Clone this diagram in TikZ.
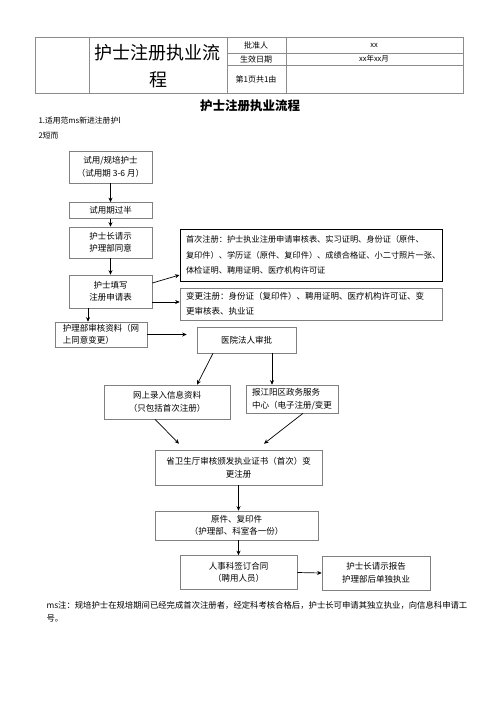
\documentclass[tikz,border=0pt]{standalone}
\usepackage{fontspec}
\setmainfont{Noto Sans CJK SC}
\usetikzlibrary{calc,arrows.meta}

\begin{document}
\begin{tikzpicture}[x=1pt,y=-1pt,
            flowbox/.style 2 args={draw=black!50,line width=.6pt,minimum width=#1,minimum height=#2,
                inner sep=1pt,align=center,font=\fontsize{8.5}{12.5}\selectfont},
            notebox/.style={draw=black!50,line width=.6pt,text width=250pt,inner xsep=6pt,inner ysep=2pt,
                align=left,font=\fontsize{8.2}{15.5}\selectfont},
            flow/.style={-{Stealth[length=4.5pt,width=4pt]},line width=.7pt},
            grid/.style={draw=black!45,line width=.7pt}]
            \useasboundingbox (0,0) rectangle (500,707);
            \draw[grid] (35,37) rectangle (463,93);
            \draw[grid] (89,37) -- (89,93) (227,37) -- (227,93) (286,37) -- (286,93)
                (227,53) -- (463,53) (227,65) -- (463,65);
            \node[font=\fontsize{18}{20}\selectfont] (ttlA) at (157,53) {护士注册执业流};
            \node[font=\fontsize{18}{20}\selectfont] (ttlB) at (158,80) {程};
            \node[font=\fontsize{8}{10}\selectfont] (approver) at (256,45) {批准人};
            \node[font=\fontsize{8}{10}\selectfont] (date) at (256,59) {生效日期};
            \node[font=\fontsize{8}{10}\selectfont] (page) at (256,79) {第1页共1由};
            \node[font=\fontsize{7.5}{10}\selectfont] (approverval) at (374,45) {xx};
            \node[font=\fontsize{7.5}{10}\selectfont] (dateval) at (374,59) {xx年xx月};
            \node[font=\fontsize{12.5}{15}\selectfont\bfseries] (head) at (250,106) {护士注册执业流程};
            \node[anchor=west,font=\fontsize{7.8}{10}\selectfont] (range) at (35,121) {1.适用范ms新进注册护l};
            \node[anchor=west,font=\fontsize{7.8}{10}\selectfont] (proc) at (35,136) {2短而};
            \node[flowbox={83pt}{32pt}] (trial) at (110.5,167) {试用/规培护士\\（试用期 3-6 月）};
            \node[flowbox={83pt}{16pt}] (half) at (110.5,210.5) {试用期过半};
            \node[flowbox={83pt}{31pt}] (ask) at (110.5,242.5) {护士长请示\\护理部同意};
            \node[flowbox={83pt}{33pt}] (form) at (110.5,291.5) {护士填写\\注册申请表};
            \node[flowbox={92pt}{25pt},align=left] (check) at (101,334.5) {护理部审核资料（网\\上同意变更）};
            \node[notebox,draw=black,line width=1pt,minimum height=52pt] (first) at (311,255)
                {首次注册：护士执业注册申请审核表、实习证明、身份证（原件、\\复印件）、学历证（原件、复印件）、成绩合格证、小二寸照片一张、\\体检证明、聘用证明、医疗机构许可证};
            \node[notebox,minimum height=32pt,font=\fontsize{8.5}{15}\selectfont] (change) at (311,304)
                {变更注册：身份证（复印件）、聘用证明、医疗机构许可证、变\\更审核表、执业证};
            \node[flowbox={99pt}{26pt}] (legal) at (246.5,340) {医院法人审批};
            \node[flowbox={126pt}{34pt}] (online) at (167,402) {网上录入信息资料\\（只包括首次注册）};
            \node[flowbox={92pt}{28pt},align=left] (center) at (292,399) {报江阳区政务服务\\中心（电子注册/变更};
            \node[flowbox={167pt}{35pt}] (issue) at (238.5,467.5) {省卫生厅审核颁发执业证书（首次）变\\更注册};
            \node[flowbox={163pt}{29pt}] (copies) at (236.5,525.5) {原件、复印件\\（护理部、科室各一份）};
            \node[flowbox={117pt}{34pt}] (contract) at (238.5,572.5) {人事科签订合同\\（聘用人员）};
            \node[flowbox={108pt}{34pt}] (alone) at (376,573) {护士长请示报告\\护理部后单独执业};
            \node[anchor=north west,align=left,font=\fontsize{8.35}{13}\selectfont] (note) at (43,598)
                {ms注：规培护士在规培期间已经完成首次注册者，经定科考核合格后，护士长可申请其独立执业，向信息科申请工\\号。};
            \draw[flow] (trial) -- (half);
            \draw[flow] (half) -- (ask);
            \draw[flow] (ask) -- (form);
            \draw[flow] ([xshift=-22.5pt]form.south) -- ([xshift=-13pt]check.north);
            \draw[flow] ([yshift=8.5pt]form.east) -- ([yshift=-20pt]first.west);
            \draw[flow] ([yshift=-10.5pt]form.east) -- ([yshift=-10.5pt]form.east -| change.west);
            \draw[flow] (check.east) -- ([xshift=-10pt]legal.west |- check.east);
            \draw[flow] ([xshift=-33.5pt]legal.south) -- ([xshift=30pt]online.north);
            \draw[flow] ([xshift=25.5pt]legal.south) -- ([xshift=25.5pt]legal.south |- center.north);
            \draw[flow] ([xshift=-12pt]online.south) -- ([xshift=-59.5pt,yshift=6pt]issue.north);
            \draw[flow] ([xshift=11pt]center.south) -- ([xshift=25.5pt,yshift=6pt]issue.north);
            \draw[flow] (issue.south) -- (issue.south |- copies.north);
            \draw[flow] (contract.north |- copies.south) -- (contract.north);
            \draw[flow] (contract.east) -- (alone.west);
        \end{tikzpicture}
\end{document}
